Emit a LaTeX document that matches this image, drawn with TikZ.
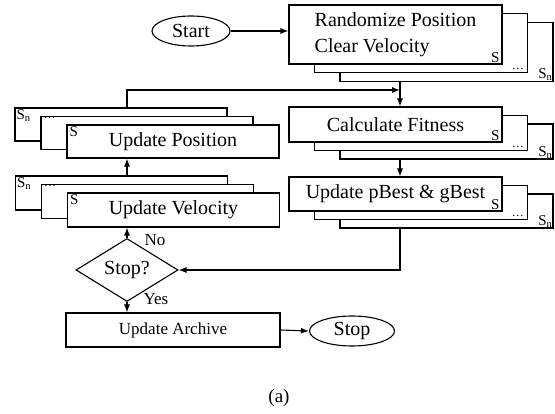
\documentclass[tikz,border=0pt]{standalone}
\usepackage{fontspec}
\setmainfont{Liberation Serif}
\usetikzlibrary{shapes.geometric,arrows.meta,positioning}
\tikzset{
  box/.style={draw, fill=white, line width=1.1pt, inner sep=0pt},
  ln/.style={line width=1.1pt},
  arr/.style={line width=1.1pt, -{Latex[length=8pt,width=6pt]}},
  big/.style={font=\fontsize{20}{26}\selectfont},
  mid/.style={font=\fontsize{17}{20}\selectfont},
  slbl/.style={font=\fontsize{15}{17}\selectfont, inner sep=0pt},
  dlbl/.style={font=\fontsize{12}{14}\selectfont, inner sep=0pt},
  rbox/.style={box, minimum width=213pt},
  lbox/.style={box, minimum width=212pt},
}
\begin{document}
\begin{tikzpicture}[x=1pt,y=-1pt]
\useasboundingbox (0,0) rectangle (555,414);
% Start
\node[draw, ellipse, line width=1.1pt, minimum width=78pt, minimum height=30pt, inner sep=0pt, big] (start) at (191,31) {Start};
% Randomize stack
\node[rbox, minimum height=59pt] (rp3) at (446.5,52) {};
\node[rbox, minimum height=59pt] (rp2) at (421,43) {};
\node[rbox, minimum height=59pt, big, align=left] (rp1) at (395.5,34.5) {Randomize Position\\Clear Velocity};
\node[slbl, anchor=south east] (rpS) at ([xshift=-3pt,yshift=2pt]rp1.south east) {S};
\node[dlbl, anchor=south east] (rpD) at ([xshift=-4pt,yshift=3pt]rp2.south east) {\dots};
\node[slbl, anchor=south east] (rpN) at ([xshift=-1pt,yshift=1pt]rp3.south east) {S\textsubscript{n}};
% Calculate stack
\node[rbox, minimum height=35pt] (cf3) at (446.5,141.5) {};
\node[rbox, minimum height=35pt] (cf2) at (421,133) {};
\node[rbox, minimum height=35pt, big] (cf1) at (395.5,124.5) {Calculate Fitness};
\node[slbl, anchor=south east] (cfS) at ([xshift=-3pt,yshift=2pt]cf1.south east) {S};
\node[dlbl, anchor=south east] (cfD) at ([xshift=-4pt,yshift=3pt]cf2.south east) {\dots};
\node[slbl, anchor=south east] (cfN) at ([xshift=-1pt,yshift=1pt]cf3.south east) {S\textsubscript{n}};
% pBest stack
\node[rbox, minimum height=34pt] (pb3) at (446.5,211) {};
\node[rbox, minimum height=34pt] (pb2) at (421,202.5) {};
\node[rbox, minimum height=34pt, big] (pb1) at (395.5,194) {Update pBest \& gBest};
\node[slbl, anchor=south east] (pbS) at ([xshift=-3pt,yshift=2pt]pb1.south east) {S};
\node[dlbl, anchor=south east] (pbD) at ([xshift=-4pt,yshift=3pt]pb2.south east) {\dots};
\node[slbl, anchor=south east] (pbN) at ([xshift=-1pt,yshift=1pt]pb3.south east) {S\textsubscript{n}};
% Position stack
\node[lbox, minimum height=33pt] (pos3) at (121,124.5) {};
\node[lbox, minimum height=33pt] (pos2) at (147,133) {};
\node[lbox, minimum height=33pt, big] (pos1) at (173,141.5) {Update Position};
\node[slbl, anchor=north west] (posS) at ([xshift=3pt,yshift=-2pt]pos1.north west) {S};
\node[dlbl, anchor=north west] (posD) at ([xshift=3pt,yshift=-1pt]pos2.north west) {\dots};
\node[slbl, anchor=north west] (posN) at ([xshift=2pt,yshift=-2pt]pos3.north west) {S\textsubscript{n}};
% Velocity stack
\node[lbox, minimum height=34pt] (vel3) at (121.5,193) {};
\node[lbox, minimum height=34pt] (vel2) at (147.5,201.5) {};
\node[lbox, minimum height=34pt, big] (vel1) at (173.5,210) {Update Velocity};
\node[slbl, anchor=north west] (velS) at ([xshift=3pt,yshift=-2pt]vel1.north west) {S};
\node[dlbl, anchor=north west] (velD) at ([xshift=3pt,yshift=-1pt]vel2.north west) {\dots};
\node[slbl, anchor=north west] (velN) at ([xshift=2pt,yshift=-2pt]vel3.north west) {S\textsubscript{n}};
% Decision
\node[draw, diamond, line width=1.1pt, minimum width=102pt, minimum height=50pt, inner sep=0pt, big] (dec) at (127,270) {Stop?};
% Archive & Stop
\node[box, minimum width=214pt, minimum height=34pt, mid] (arc) at (173,330) {Update Archive};
\node[draw, ellipse, line width=1.1pt, minimum width=85pt, minimum height=30pt, inner sep=0pt, big] (stop) at (352,331) {Stop};
% caption
\node[font=\fontsize{19}{22}\selectfont] (cap) at (279,398) {(a)};
% helper coordinates
\coordinate (rx) at (400,0);
\coordinate (j) at (400,90);
% connectors
\draw[arr] (start.east) -- (start.east -| rp1.west);
\draw[arr] (rp3.south -| rx) -- (cf1.north -| rx);
\draw[arr] (pos3.north -| dec.north) |- (j);
\draw[arr] (cf3.south -| rx) -- (pb1.north -| rx);
\draw[arr] (pb3.south -| rx) |- (dec.east);
\draw[arr] (vel3.north -| dec.north) -- (pos1.south -| dec.north);
\draw[arr] (dec.north) -- (dec.north |- vel1.south);
\draw[arr] (dec.south) -- (dec.south |- arc.north);
\draw[arr] (arc.east) -- (stop.west);
\node[mid, anchor=west] (no) at (141,240) {No};
\node[mid, anchor=west] (yes) at (140,299) {Yes};
\end{tikzpicture}
\end{document}
